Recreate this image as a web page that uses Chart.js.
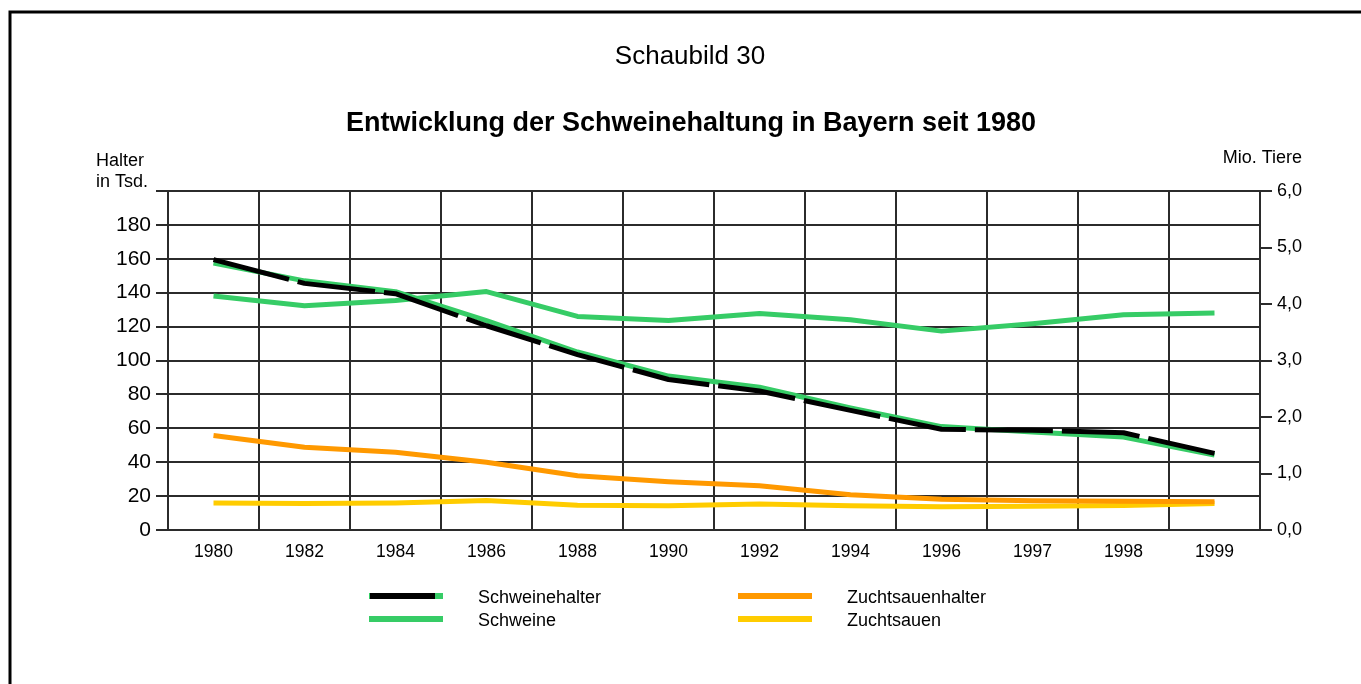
<!DOCTYPE html>
<html lang="de">
<head>
<meta charset="utf-8">
<title>Schaubild 30</title>
<script src="https://cdn.jsdelivr.net/npm/chart.js@4.4.1/dist/chart.umd.min.js"></script>
<style>
  html, body { margin: 0; padding: 0; background: #fff; }
  #wrap { width: 1361px; height: 684px; }
</style>
</head>
<body>
<div id="wrap"><canvas id="chart" width="1361" height="684"></canvas></div>
<script>
// Jahre (Kategorien)
const jahre = ['1980', '1982', '1984', '1986', '1988', '1990', '1992', '1994', '1996', '1997', '1998', '1999'];

// Halter in Tsd. (linke Achse)
const schweinehalter = [159.5, 145.5, 139.4, 120.5, 103.5, 88.8, 82.0, 70.6, 59.4, 58.8, 57.4, 45.2];
// gruene Unterlegung der Schweinehalter-Linie
const schweinehalterUnterlage = [157.5, 147.0, 140.6, 123.5, 105.0, 90.8, 84.2, 72.0, 61.0, 57.8, 54.8, 44.2];
const zuchtsauenhalter = [55.7, 48.8, 45.9, 40.0, 32.0, 28.5, 26.1, 20.8, 18.2, 17.3, 16.9, 16.7];

// Mio. Tiere (rechte Achse)
const schweine = [4.14, 3.97, 4.06, 4.22, 3.78, 3.71, 3.83, 3.72, 3.52, 3.65, 3.81, 3.84];
const zuchtsauen = [0.48, 0.47, 0.48, 0.52, 0.44, 0.43, 0.46, 0.43, 0.41, 0.42, 0.435, 0.47];

const GRUEN = '#36cc66';
const ORANGE = '#ff9900';
const GELB = '#ffcc00';
const GITTER = '#2b2b2b';
const FONT = "'Liberation Sans', Arial, sans-serif";

// Texte, Rahmen und Legende
const extras = {
  id: 'extras',
  afterDraw(chart) {
    const ctx = chart.ctx;
    ctx.save();

    // Rahmen
    ctx.strokeStyle = '#000';
    ctx.lineWidth = 3;
    ctx.beginPath();
    ctx.moveTo(10, 684);
    ctx.lineTo(10, 12);
    ctx.lineTo(1361, 12);
    ctx.stroke();

    ctx.fillStyle = '#000';
    ctx.textBaseline = 'alphabetic';
    ctx.textAlign = 'center';
    ctx.font = '26px ' + FONT;
    ctx.fillText('Schaubild 30', 690, 64);
    ctx.font = 'bold 27px ' + FONT;
    ctx.fillText('Entwicklung der Schweinehaltung in Bayern seit 1980', 691, 131);

    ctx.textAlign = 'left';
    ctx.font = '18px ' + FONT;
    ctx.fillText('Halter', 96, 166);
    ctx.fillText('in Tsd.', 96, 187);
    ctx.textAlign = 'right';
    ctx.fillText('Mio. Tiere', 1302, 163);

    // Legende
    const ds = chart.data.datasets;
    const eintraege = [
      { text: ds[0].label, x: 369, y: 596, farbe: ds[0].borderColor, unter: GRUEN },
      { text: ds[2].label, x: 369, y: 619, farbe: ds[2].borderColor },
      { text: ds[3].label, x: 738, y: 596, farbe: ds[3].borderColor },
      { text: ds[4].label, x: 738, y: 619, farbe: ds[4].borderColor }
    ];
    ctx.lineWidth = 6;
    ctx.lineCap = 'butt';
    ctx.textAlign = 'left';
    ctx.font = '18px ' + FONT;
    eintraege.forEach(e => {
      if (e.unter) {
        ctx.strokeStyle = e.unter;
        ctx.beginPath();
        ctx.moveTo(e.x, e.y);
        ctx.lineTo(e.x + 74, e.y);
        ctx.stroke();
        ctx.strokeStyle = e.farbe;
        ctx.beginPath();
        ctx.moveTo(e.x + 1, e.y);
        ctx.lineTo(e.x + 66, e.y);
        ctx.stroke();
      } else {
        ctx.strokeStyle = e.farbe;
        ctx.beginPath();
        ctx.moveTo(e.x, e.y);
        ctx.lineTo(e.x + 74, e.y);
        ctx.stroke();
      }
      ctx.fillStyle = '#000';
      ctx.fillText(e.text, e.x + 109, e.y + 7);
    });

    ctx.restore();
  }
};

new Chart(document.getElementById('chart'), {
  type: 'line',
  data: {
    labels: jahre,
    datasets: [
      {
        label: 'Schweinehalter',
        data: schweinehalter,
        yAxisID: 'y',
        borderColor: '#000',
        borderWidth: 5,
        borderDash: [78, 9]
      },
      {
        label: 'Schweinehalter (Unterlage)',
        data: schweinehalterUnterlage,
        yAxisID: 'y',
        borderColor: GRUEN,
        borderWidth: 5
      },
      {
        label: 'Schweine',
        data: schweine,
        yAxisID: 'y1',
        borderColor: GRUEN,
        borderWidth: 5
      },
      {
        label: 'Zuchtsauenhalter',
        data: zuchtsauenhalter,
        yAxisID: 'y',
        borderColor: ORANGE,
        borderWidth: 5
      },
      {
        label: 'Zuchtsauen',
        data: zuchtsauen,
        yAxisID: 'y1',
        borderColor: GELB,
        borderWidth: 5
      }
    ]
  },
  options: {
    responsive: false,
    animation: false,
    layout: { padding: { top: 191, left: 0, right: 0, bottom: 0 } },
    elements: {
      point: { radius: 0, hoverRadius: 0 },
      line: { tension: 0, fill: false, borderCapStyle: 'butt', borderJoinStyle: 'round' }
    },
    plugins: {
      legend: { display: false },
      tooltip: { enabled: false },
      title: { display: false }
    },
    scales: {
      x: {
        offset: true,
        grid: { offset: true, color: GITTER, lineWidth: 2, drawTicks: false },
        border: { display: true, color: GITTER, width: 2 },
        ticks: { color: '#000', padding: 12, font: { family: FONT, size: 17.5 }, maxRotation: 0, autoSkip: false },
        afterFit(scale) { scale.height = 154; }
      },
      y: {
        position: 'left',
        min: 0,
        max: 200,
        grid: { color: GITTER, lineWidth: 2, tickLength: 12 },
        border: { display: true, color: GITTER, width: 2 },
        ticks: {
          stepSize: 20,
          color: '#000',
          padding: 5,
          font: { family: FONT, size: 21 },
          callback: v => (v === 200 ? '' : v)
        },
        afterFit(scale) { scale.width = 168; }
      },
      y1: {
        position: 'right',
        min: 0,
        max: 6,
        grid: { drawOnChartArea: false, color: GITTER, lineWidth: 2, tickLength: 12 },
        border: { display: true, color: GITTER, width: 2 },
        ticks: {
          stepSize: 1,
          color: '#000',
          padding: 5,
          font: { family: FONT, size: 18 },
          callback: v => v.toFixed(1).replace('.', ',')
        },
        afterFit(scale) { scale.width = 101; }
      }
    }
  },
  plugins: [extras]
});
</script>
</body>
</html>
